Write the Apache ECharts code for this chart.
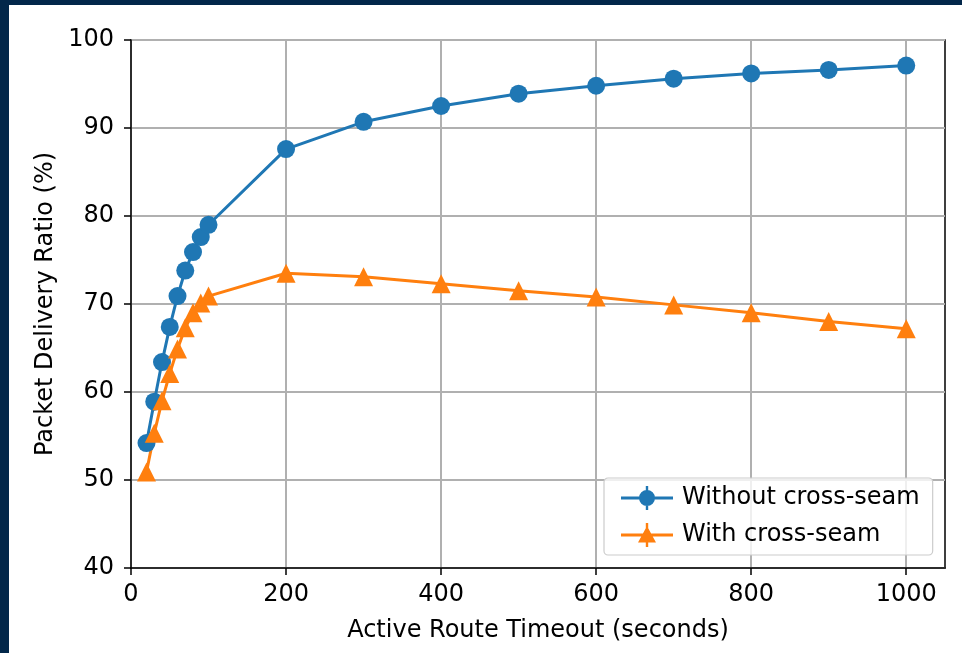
<!DOCTYPE html>
<html>
<head>
<meta charset="utf-8">
<script src="https://cdn.jsdelivr.net/npm/echarts@6/dist/echarts.min.js"></script>
<style>
  html, body { margin: 0; padding: 0; background: #02274a; width: 962px; height: 653px; overflow: hidden; }
  #chart { position: absolute; left: 9px; top: 5px; width: 953px; height: 648px; background: #ffffff; }
</style>
</head>
<body>
<div id="chart"></div>
<script>
const xValues = [20, 30, 40, 50, 60, 70, 80, 90, 100, 200, 300, 400, 500, 600, 700, 800, 900, 1000];
const withoutSeam = [54.2, 58.9, 63.4, 67.4, 70.9, 73.8, 75.9, 77.6, 79.0, 87.6, 90.7, 92.5, 93.9, 94.8, 95.6, 96.2, 96.6, 97.1];
const withSeam = [50.9, 55.3, 59.0, 62.1, 64.9, 67.3, 69.0, 70.1, 70.9, 73.5, 73.1, 72.3, 71.5, 70.8, 69.9, 69.0, 68.0, 67.2];
const xTicks = [0, 200, 400, 600, 800, 1000];
const yTicks = [40, 50, 60, 70, 80, 90, 100];
const seriesNames = ['Without cross-seam', 'With cross-seam'];

const FONT = 'DejaVu Sans';
const circleIcon = 'path://M0 10.5 L52 10.5 L52 13.5 L0 13.5 Z M24.8 0 L27.2 0 L27.2 24 L24.8 24 Z M26 4 A8 8 0 1 1 26 20 A8 8 0 1 1 26 4 Z';
const triIcon = 'path://M0 10.5 L52 10.5 L52 13.5 L0 13.5 Z M24.8 0 L27.2 0 L27.2 24 L24.8 24 Z M26 3 L35 19.5 L17 19.5 Z';

const chart = echarts.init(document.getElementById('chart'), null, { renderer: 'canvas' });
chart.setOption({
  animation: false,
  backgroundColor: '#ffffff',
  grid: { left: 122, top: 35, right: 17, bottom: 85, show: true, borderColor: '#000', borderWidth: 1.5, backgroundColor: 'transparent' },
  legend: {
    left: 595, top: 473,
    orient: 'vertical',
    itemWidth: 52, itemHeight: 24, itemGap: 13,
    padding: [8, 13, 8, 17],
    backgroundColor: 'rgba(255,255,255,0.8)',
    borderColor: '#cccccc', borderWidth: 1.2, borderRadius: 4,
    textStyle: { fontFamily: FONT, fontSize: 24, color: '#000', padding: [0, 0, 0, 4], lineHeight: 24 },
    data: [
      { name: seriesNames[0], icon: circleIcon },
      { name: seriesNames[1], icon: triIcon }
    ]
  },
  xAxis: {
    type: 'value', min: 0, max: 1050,
    name: 'Active Route Timeout (seconds)', nameLocation: 'middle', nameGap: 51,
    nameTextStyle: { fontFamily: FONT, fontSize: 24, color: '#000' },
    axisLine: { show: true, onZero: false, lineStyle: { color: '#000', width: 1.5 } },
    axisTick: { show: true, inside: false, length: 7, lineStyle: { color: '#000', width: 1.5 }, customValues: xTicks },
    axisLabel: { fontFamily: FONT, fontSize: 24, color: '#000', margin: 15, customValues: xTicks, formatter: v => String(v) },
    splitLine: { show: true, lineStyle: { color: '#b0b0b0', width: 2 } }
  },
  yAxis: {
    type: 'value', min: 40, max: 100, interval: 10,
    name: 'Packet Delivery Ratio (%)', nameLocation: 'middle', nameGap: 72,
    nameTextStyle: { fontFamily: FONT, fontSize: 24, color: '#000' },
    axisLine: { show: true, onZero: false, lineStyle: { color: '#000', width: 1.5 } },
    axisTick: { show: true, inside: false, length: 7, lineStyle: { color: '#000', width: 1.5 }, customValues: yTicks },
    axisLabel: { fontFamily: FONT, fontSize: 24, color: '#000', margin: 17, customValues: yTicks, formatter: v => String(v) },
    splitLine: { show: true, lineStyle: { color: '#b0b0b0', width: 2 } }
  },
  series: [
    {
      name: seriesNames[0], type: 'line',
      data: xValues.map((x, i) => [x, withoutSeam[i]]),
      symbol: 'circle', symbolSize: 18,
      lineStyle: { color: '#1f77b4', width: 3 },
      itemStyle: { color: '#1f77b4' },
      z: 3
    },
    {
      name: seriesNames[1], type: 'line',
      data: xValues.map((x, i) => [x, withSeam[i]]),
      symbol: 'triangle', symbolSize: 19,
      lineStyle: { color: '#ff7f0e', width: 3 },
      itemStyle: { color: '#ff7f0e' },
      z: 3
    }
  ]
});
</script>
</body>
</html>
